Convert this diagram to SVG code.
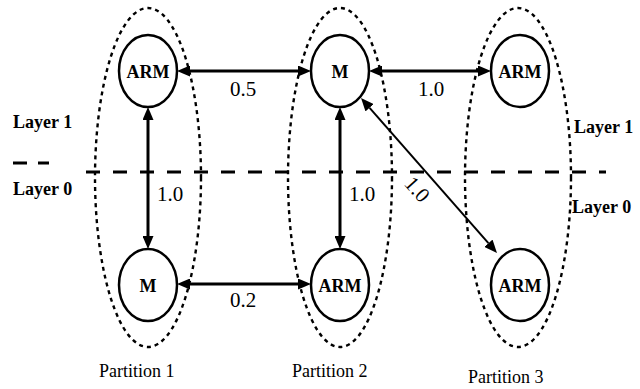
<svg xmlns="http://www.w3.org/2000/svg" width="640" height="389" viewBox="0 0 640 389">
<style>
.part{fill:none;stroke:#000;stroke-width:2.4;stroke-dasharray:4 4}
.node{fill:#fff;stroke:#000;stroke-width:2.5}
.nl{font-weight:bold;font-size:18px;text-anchor:middle}
.el{font-size:21px;text-anchor:middle}
.lay{font-weight:bold;font-size:18px}
.pl{font-size:18px}
.edge{stroke:#000;stroke-width:3;fill:none;marker-start:url(#ah);marker-end:url(#ah)}
.dash{stroke:#000;stroke-width:3;fill:none}
</style>
<defs>
<marker id="ah" viewBox="0 0 13 11" refX="0" refY="5.5" markerWidth="13" markerHeight="11" markerUnits="userSpaceOnUse" orient="auto-start-reverse">
<path d="M0,0 L13,5.5 L0,11 z" fill="#000"/>
</marker>
</defs>
<rect width="640" height="389" fill="#fff"/>
<g font-family="'Liberation Serif', 'Times New Roman', Times, serif">
<g id="partitions">
<ellipse class="part" cx="148" cy="177.5" rx="53" ry="169.5"/>
<ellipse class="part" cx="340" cy="177.5" rx="52" ry="169.5"/>
<ellipse class="part" cx="518" cy="177.5" rx="53" ry="169.5"/>
</g>
<g id="layer-divider">
<line class="dash" x1="86" y1="172" x2="606" y2="172" stroke-dasharray="14 13"/>
<line class="dash" x1="13" y1="163" x2="49" y2="163" stroke-dasharray="14 11"/>
</g>
<g id="connectors">
<line class="edge" x1="190" y1="71" x2="298" y2="71"/>
<line class="edge" x1="382" y1="71" x2="478" y2="71"/>
<line class="edge" x1="190" y1="284" x2="298" y2="284"/>
<line class="edge" x1="148" y1="120" x2="148" y2="236"/>
<line class="edge" x1="340" y1="120" x2="340" y2="236"/>
<line class="edge" style="stroke-width:2" x1="369.6" y1="107.8" x2="488.4" y2="243.2"/>
<text class="el" x="243" y="96">0.5</text>
<text class="el" x="431" y="96">1.0</text>
<text class="el" x="243" y="307">0.2</text>
<text class="el" x="170" y="201">1.0</text>
<text class="el" x="362" y="201">1.0</text>
<text class="el" transform="translate(412,194) rotate(48)" x="0" y="0">1.0</text>
</g>
<g id="n1"><ellipse class="node" cx="148" cy="71" rx="29" ry="36"/><text class="nl" x="148" y="77.5">ARM</text></g>
<g id="n2"><ellipse class="node" cx="340" cy="71" rx="29" ry="36"/><text class="nl" x="340" y="77.5">M</text></g>
<g id="n3"><ellipse class="node" cx="520" cy="71" rx="29" ry="36"/><text class="nl" x="520" y="77.5">ARM</text></g>
<g id="n4"><ellipse class="node" cx="148" cy="285" rx="29" ry="36"/><text class="nl" x="148" y="291.5">M</text></g>
<g id="n5"><ellipse class="node" cx="340" cy="285" rx="29" ry="36"/><text class="nl" x="340" y="291.5">ARM</text></g>
<g id="n6"><ellipse class="node" cx="520" cy="285" rx="29" ry="36"/><text class="nl" x="520" y="291.5">ARM</text></g>
<g id="labels">
<text class="lay" x="13" y="128">Layer 1</text>
<text class="lay" x="13" y="195">Layer 0</text>
<text class="lay" x="574" y="133">Layer 1</text>
<text class="lay" x="572" y="213">Layer 0</text>
<text class="pl" x="99" y="377">Partition 1</text>
<text class="pl" x="292" y="377">Partition 2</text>
<text class="pl" x="468" y="383">Partition 3</text>
</g>
</g>
</svg>
